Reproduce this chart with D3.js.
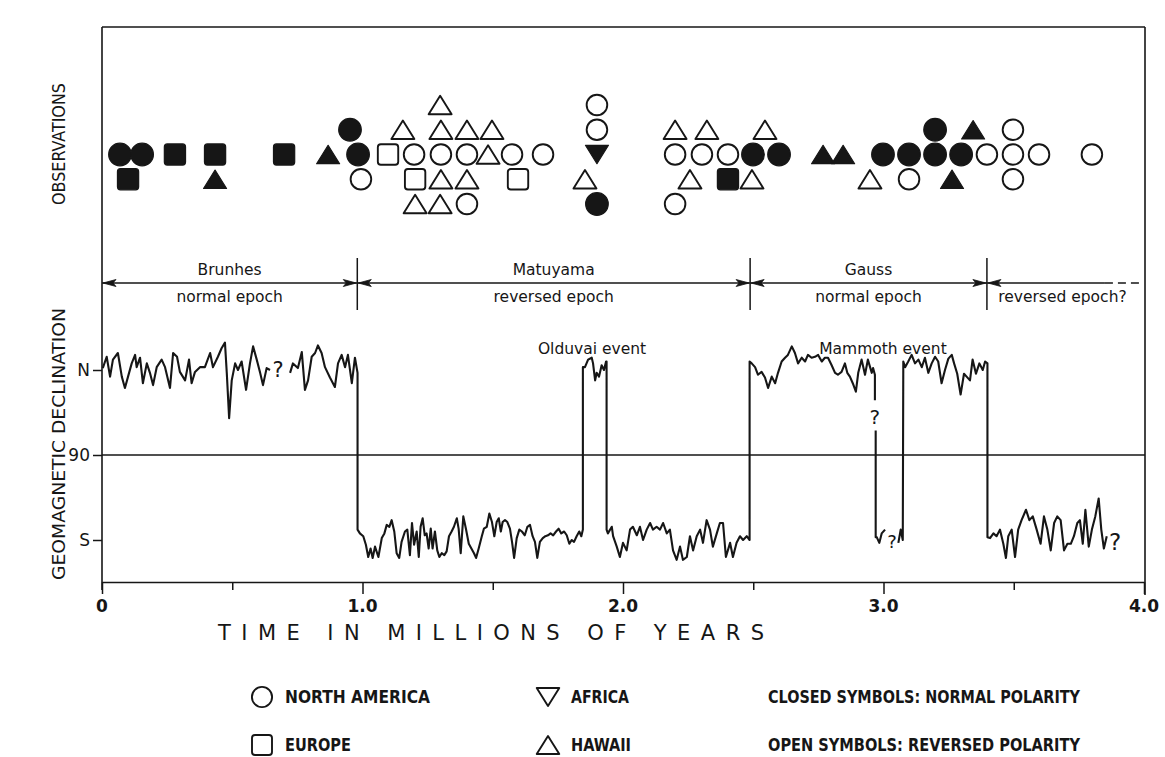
<!DOCTYPE html>
<html><head><meta charset="utf-8">
<script src="https://cdn.jsdelivr.net/npm/d3@7"></script>
<style>
body{margin:0;background:#fff;}
svg{display:block;background:#fff;}
</style></head><body>
<svg id="chart" width="1165" height="757"></svg>
<script>
// ---------------- DATA ----------------
const xTickValues = [0, 0.5, 1, 1.5, 2, 2.5, 3, 3.5, 4];
const xTickLabels = ["0", "1.0", "2.0", "3.0", "4.0"];
const xLabelValues = [0, 1, 2, 3, 4];
const declTickValues = [0, 90, 180];
const declTickLabels = ["N", "90", "S"];

const epochBounds = [0, 0.98, 2.488, 3.397, 4.0];
const epochNames = ["Brunhes", "Matuyama", "Gauss", ""];
const epochKinds = ["normal epoch", "reversed epoch", "normal epoch", "reversed epoch?"];

const eventNames = ["Olduvai event", "Mammoth event"];
const eventTimes = [1.881, 2.998];

// observations: [time (Myr), stack level]
const naNormal = [[0.069,0],[0.154,0],[0.952,-1],[0.983,0],[1.900,2],[2.499,0],[2.599,0],[2.998,0],[3.098,0],[3.198,0],[3.198,-1],[3.298,0]];
const naReversed = [[0.994,1],[1.198,0],[1.301,0],[1.401,0],[1.574,0],[1.693,0],[1.401,2],[1.900,-2],[1.900,-1],[2.200,0],[2.303,0],[2.403,0],[2.200,2],[3.098,1],[3.397,0],[3.497,0],[3.597,0],[3.497,-1],[3.497,1],[3.800,0]];
const euNormal = [[0.100,1],[0.280,0],[0.434,0],[0.699,0],[2.403,1]];
const euReversed = [[1.098,0],[1.202,1],[1.597,1]];
const hiNormal = [[0.434,1],[0.868,0],[2.768,0],[2.845,0],[3.344,-1],[3.263,1]];
const hiReversed = [[1.298,-2],[1.155,-1],[1.301,-1],[1.401,-1],[1.497,-1],[1.482,0],[1.301,1],[1.401,1],[1.202,2],[1.298,2],[1.854,1],[2.200,-1],[2.322,-1],[2.545,-1],[2.257,1],[2.495,1],[2.948,1]];
const afNormal = [[1.900,0]];

// declination trace: [time (Myr), declination (deg, N=0, S=180)], null = gap
const declination = [
[0.003,-2],[0.018,-14],[0.031,7],[0.042,-11],[0.061,-18],[0.076,7],[0.088,19],[0.100,7],[0.114,-7],[0.127,-16],[0.133,-3],[0.146,-13],[0.157,14],[0.172,-7],[0.184,3],[0.196,16],[0.210,-3],[0.229,-11],[0.242,-3],[0.261,19],[0.273,-18],[0.288,-14],[0.299,2],[0.319,11],[0.334,-11],[0.344,14],[0.357,2],[0.376,-3],[0.395,-3],[0.415,-18],[0.426,-3],[0.445,-14],[0.459,-23],[0.472,-29],[0.479,3],[0.488,51],[0.498,11],[0.511,-7],[0.522,0],[0.536,-9],[0.553,21],[0.568,-7],[0.580,-25],[0.594,-11],[0.607,3],[0.618,16],[0.632,-2],[0.645,0],
null,
[0.722,3],[0.733,-7],[0.752,-2],[0.767,-19],[0.779,21],[0.791,11],[0.805,-14],[0.818,-18],[0.829,-26],[0.843,-18],[0.856,-3],[0.875,8],[0.894,18],[0.906,-7],[0.920,-16],[0.933,-3],[0.944,-16],[0.959,14],[0.971,-13],[0.981,3],[0.981,169],
[0.990,173],[1.003,176],[1.013,185],[1.022,198],[1.031,189],[1.039,199],[1.048,187],[1.061,198],[1.074,178],[1.084,173],[1.093,164],[1.103,166],[1.112,159],[1.122,171],[1.131,194],[1.141,199],[1.150,182],[1.163,171],[1.172,169],[1.182,196],[1.190,162],[1.198,185],[1.208,171],[1.216,198],[1.223,166],[1.231,157],[1.239,175],[1.246,173],[1.254,189],[1.262,168],[1.269,189],[1.278,171],[1.287,191],[1.295,198],[1.304,194],[1.314,196],[1.323,192],[1.332,176],[1.342,171],[1.351,166],[1.362,157],[1.369,168],[1.377,194],[1.387,155],[1.397,168],[1.408,184],[1.418,189],[1.428,194],[1.436,199],[1.446,189],[1.458,176],[1.466,168],[1.477,166],[1.487,152],[1.497,161],[1.506,176],[1.515,161],[1.523,157],[1.531,171],[1.538,161],[1.547,159],[1.556,161],[1.566,168],[1.574,182],[1.582,199],[1.592,178],[1.602,169],[1.612,171],[1.623,175],[1.633,166],[1.643,164],[1.653,176],[1.662,182],[1.671,199],[1.681,182],[1.692,178],[1.702,176],[1.712,175],[1.722,173],[1.732,175],[1.743,171],[1.753,168],[1.763,173],[1.774,171],[1.784,175],[1.794,184],[1.803,180],[1.812,182],[1.822,176],[1.832,171],[1.840,176],[1.846,169],[1.846,-3],
[1.854,-3],[1.866,-11],[1.880,-13],[1.885,-7],[1.893,11],[1.899,3],[1.908,7],[1.918,-5],[1.927,0],[1.935,-9],[1.937,-9],[1.937,169],
[1.942,173],[1.957,166],[1.962,176],[1.976,187],[1.988,198],[2.000,183],[2.014,191],[2.027,169],[2.038,166],[2.053,175],[2.065,166],[2.077,180],[2.091,169],[2.104,162],[2.115,169],[2.129,166],[2.142,169],[2.154,162],[2.168,173],[2.180,169],[2.192,191],[2.206,201],[2.219,187],[2.230,201],[2.245,198],[2.257,176],[2.269,191],[2.283,176],[2.296,169],[2.307,183],[2.321,159],[2.334,169],[2.345,187],[2.360,173],[2.372,162],[2.384,162],[2.395,198],[2.411,183],[2.422,198],[2.436,183],[2.449,176],[2.461,180],[2.475,176],[2.486,180],[2.486,-9],
[2.494,-7],[2.507,-3],[2.518,5],[2.532,2],[2.545,8],[2.557,19],[2.571,7],[2.584,14],[2.595,3],[2.609,-9],[2.622,-13],[2.633,-16],[2.648,-25],[2.660,-18],[2.672,-7],[2.686,-13],[2.699,-9],[2.710,-16],[2.724,-13],[2.737,-14],[2.749,-16],[2.763,-9],[2.775,-13],[2.787,-13],[2.801,-5],[2.814,3],[2.825,5],[2.839,2],[2.852,-7],[2.861,3],[2.871,7],[2.882,14],[2.894,23],[2.903,3],[2.916,-11],[2.929,5],[2.940,-11],[2.955,3],[2.960,-2],[2.967,5],[2.967,32],
null,
[2.970,64],[2.970,177],[2.974,177],[2.984,183],[2.993,173],[3.006,169],
null,
[3.057,183],[3.066,169],[3.074,180],[3.076,-9],[3.083,-3],[3.095,-9],[3.108,-16],[3.121,-7],[3.134,-11],[3.147,-3],[3.159,-13],[3.172,3],[3.185,-7],[3.198,-14],[3.210,-9],[3.223,14],[3.236,0],[3.249,-12],[3.262,-16],[3.271,-7],[3.283,4],[3.296,26],[3.309,4],[3.319,7],[3.332,11],[3.342,-11],[3.355,4],[3.368,-7],[3.381,0],[3.390,-9],[3.399,-7],[3.399,177],
[3.409,178],[3.422,173],[3.434,176],[3.447,169],[3.460,184],[3.470,199],[3.479,176],[3.492,169],[3.505,198],[3.517,169],[3.530,159],[3.547,148],[3.560,159],[3.573,155],[3.588,169],[3.603,184],[3.616,155],[3.629,169],[3.642,191],[3.655,162],[3.667,155],[3.680,159],[3.693,191],[3.706,184],[3.719,184],[3.731,176],[3.744,162],[3.754,159],[3.765,184],[3.775,148],[3.788,187],[3.800,169],[3.813,155],[3.826,136],[3.836,169],[3.846,189],[3.857,176]
];

// uncertain points marked "?": [time, declination]
const questionMarks = [[0.676, 0], [2.967, 50], [3.033, 182], [3.889, 182]];

const legendNames = ["NORTH AMERICA", "EUROPE", "AFRICA", "HAWAII"];
const legendShapes = ["circle", "square", "down", "up"];
const legendNotes = ["CLOSED SYMBOLS: NORMAL POLARITY", "OPEN SYMBOLS: REVERSED POLARITY"];

// ---------------- DRAWING ----------------
const svg = d3.select("#chart");
const INK = "#161616";
const L = 102, R = 1144, TOP = 27, AXY = 582;

const x = d3.scaleLinear().domain([0, 4]).range([L, R]);
const yDec = d3.scaleLinear().domain([0, 180]).range([370, 540]);
const yObs = d3.scaleLinear().domain([-2, 2]).range([105, 204]);

const condensed = "'Liberation Sans Narrow','DejaVu Sans Condensed','Roboto Condensed','Arial Narrow',sans-serif";
const plain = "'DejaVu Sans','Noto Sans',sans-serif";

// frame
const frame = svg.append("g").attr("stroke", INK).attr("stroke-width", 1.6).attr("fill", "none");
frame.append("line").attr("x1", L).attr("x2", R + 1).attr("y1", TOP).attr("y2", TOP);
frame.append("line").attr("x1", L).attr("x2", L).attr("y1", TOP).attr("y2", AXY + 8);
frame.append("line").attr("x1", R + 1).attr("x2", R + 1).attr("y1", TOP).attr("y2", AXY + 13);

// x axis
const xAxis = d3.axisBottom(x).tickValues(xTickValues).tickFormat("").tickSize(8).tickSizeOuter(0);
const gx = svg.append("g").attr("transform", `translate(0,${AXY})`).call(xAxis);
gx.select(".domain").attr("stroke", INK).attr("stroke-width", 1.6);
gx.selectAll(".tick line").attr("stroke", INK).attr("stroke-width", 1.5)
  .attr("y2", d => Number.isInteger(d) ? 12 : 8);
svg.append("g").selectAll("text").data(xLabelValues).join("text")
  .attr("x", d => x(d)).attr("y", 606).attr("text-anchor", "middle").attr("dominant-baseline", "central")
  .attr("font-family", plain).attr("font-weight", "bold").attr("font-size", 17).attr("fill", INK)
  .text((d, i) => xTickLabels[i]);
svg.append("text").attr("x", 491).attr("y", 633).attr("text-anchor", "middle").attr("dominant-baseline", "central")
  .attr("font-family", plain).attr("font-size", 21).attr("fill", INK)
  .attr("textLength", 546).attr("lengthAdjust", "spacing")
  .text("TIME IN MILLIONS OF YEARS");

// declination axis
const yAxis = d3.axisLeft(yDec).tickValues(declTickValues).tickFormat("").tickSize(9).tickSizeOuter(0);
const gy = svg.append("g").attr("transform", `translate(${L},0)`).call(yAxis);
gy.select(".domain").remove();
gy.selectAll(".tick line").attr("stroke", INK).attr("stroke-width", 1.5);
svg.append("g").selectAll("text").data(declTickValues).join("text")
  .attr("x", 90).attr("y", d => yDec(d)).attr("text-anchor", "end").attr("dominant-baseline", "central")
  .attr("font-family", plain).attr("font-size", 17).attr("fill", INK)
  .text((d, i) => declTickLabels[i]);
svg.append("line").attr("x1", L).attr("x2", R + 1).attr("y1", yDec(90)).attr("y2", yDec(90))
  .attr("stroke", INK).attr("stroke-width", 1.6);

// rotated axis titles
svg.append("text").attr("transform", "translate(59,144) rotate(-90)").attr("text-anchor", "middle")
  .attr("dominant-baseline", "central").attr("font-family", condensed).attr("font-size", 17).attr("fill", INK)
  .attr("textLength", 122).attr("lengthAdjust", "spacingAndGlyphs").text("OBSERVATIONS");
svg.append("text").attr("transform", "translate(59,444) rotate(-90)").attr("text-anchor", "middle")
  .attr("dominant-baseline", "central").attr("font-family", condensed).attr("font-size", 17).attr("fill", INK)
  .attr("textLength", 272).attr("lengthAdjust", "spacingAndGlyphs").text("GEOMAGNETIC DECLINATION");

// epoch band
const EPY = 283;
const eg = svg.append("g");
eg.append("line").attr("x1", L).attr("x2", x(3.85)).attr("y1", EPY).attr("y2", EPY)
  .attr("stroke", INK).attr("stroke-width", 1.5);
eg.append("line").attr("x1", x(3.85)).attr("x2", R - 2).attr("y1", EPY).attr("y2", EPY)
  .attr("stroke", INK).attr("stroke-width", 1.5).attr("stroke-dasharray", "8,5");
eg.selectAll("line.sep").data(epochBounds.slice(1, -1)).join("line").attr("class", "sep")
  .attr("x1", d => x(d)).attr("x2", d => x(d)).attr("y1", 258).attr("y2", 310)
  .attr("stroke", INK).attr("stroke-width", 1.5);
// arrowheads
const arrows = [];
epochBounds.slice(0, -1).forEach((b, i) => {
  arrows.push({ at: x(b) + 1, dir: -1 });
  if (i < epochBounds.length - 2) arrows.push({ at: x(epochBounds[i + 1]) - 1, dir: 1 });
});
eg.selectAll("path.arr").data(arrows).join("path").attr("class", "arr")
  .attr("d", d => `M${d.at},${EPY} L${d.at - d.dir * 13},${EPY - 3.5} L${d.at - d.dir * 10},${EPY} L${d.at - d.dir * 13},${EPY + 3.5} Z`)
  .attr("fill", INK).attr("stroke", INK).attr("stroke-width", 0.8);
eg.selectAll("text.name").data(epochNames).join("text").attr("class", "name")
  .attr("x", (d, i) => (x(epochBounds[i]) + x(epochBounds[i + 1])) / 2).attr("y", 270)
  .attr("text-anchor", "middle").attr("dominant-baseline", "central")
  .attr("font-family", plain).attr("font-size", 15.5).attr("fill", INK).text(d => d);
eg.selectAll("text.kind").data(epochKinds).join("text").attr("class", "kind")
  .attr("x", (d, i) => (x(epochBounds[i]) + x(epochBounds[i + 1])) / 2 - (i === 3 ? 3 : 0)).attr("y", 297)
  .attr("text-anchor", "middle").attr("dominant-baseline", "central")
  .attr("font-family", plain).attr("font-size", 15.5).attr("fill", INK).text(d => d);

// event labels
svg.append("g").selectAll("text").data(eventNames).join("text")
  .attr("x", (d, i) => x(eventTimes[i])).attr("y", 349)
  .attr("text-anchor", "middle").attr("dominant-baseline", "central")
  .attr("font-family", plain).attr("font-size", 15.5).attr("fill", INK).text(d => d);

// declination trace
const line = d3.line().defined(d => d !== null).x(d => x(d[0])).y(d => yDec(d[1]));
svg.append("path").datum(declination).attr("d", line).attr("fill", "none")
  .attr("stroke", INK).attr("stroke-width", 2.1).attr("stroke-linejoin", "round");

// question marks
const qSizes = [21, 20, 18, 23];
svg.append("g").selectAll("text").data(questionMarks).join("text")
  .attr("x", d => x(d[0])).attr("y", d => yDec(d[1]))
  .attr("text-anchor", "middle").attr("dominant-baseline", "central")
  .attr("font-family", plain).attr("font-size", (d, i) => qSizes[i]).attr("fill", INK).text("?");

// symbols
function drawSymbol(g, shape, filled, cx, cy, scale) {
  const s = scale || 1;
  const fill = filled ? INK : "#fff";
  const sw = filled ? 1.2 : 1.9;
  if (shape === "circle") {
    g.append("circle").attr("cx", cx).attr("cy", cy).attr("r", (filled ? 11.3 : 10.3) * s)
      .attr("fill", fill).attr("stroke", INK).attr("stroke-width", sw);
  } else if (shape === "square") {
    const h = (filled ? 10.6 : 10.2) * s;
    g.append("rect").attr("x", cx - h).attr("y", cy - h).attr("width", 2 * h).attr("height", 2 * h)
      .attr("rx", 3).attr("fill", fill).attr("stroke", INK).attr("stroke-width", sw);
  } else {
    const hw = 11.5 * s, hh = 9.2 * s, dir = shape === "up" ? 1 : -1;
    g.append("path")
      .attr("d", `M${cx},${cy - dir * hh} L${cx + hw},${cy + dir * hh} L${cx - hw},${cy + dir * hh} Z`)
      .attr("fill", fill).attr("stroke", INK).attr("stroke-width", sw).attr("stroke-linejoin", "round");
  }
}
const og = svg.append("g");
const groups = [
  [naNormal, "circle", true], [naReversed, "circle", false],
  [euNormal, "square", true], [euReversed, "square", false],
  [hiNormal, "up", true], [hiReversed, "up", false],
  [afNormal, "down", true]
];
groups.forEach(([arr, shape, filled]) => {
  arr.forEach(d => drawSymbol(og, shape, filled, x(d[0]), yObs(d[1])));
});

// legend
const lg = svg.append("g");
const legX = [262, 262, 548, 548], legY = [697, 745, 697, 745];
legendNames.forEach((n, i) => {
  drawSymbol(lg, legendShapes[i], false, legX[i], legY[i], 0.98);
  lg.append("text").attr("x", legX[i] + 23).attr("y", legY[i]).attr("dominant-baseline", "central")
    .attr("font-family", condensed).attr("font-weight", "bold").attr("font-size", 17).attr("fill", INK)
    .attr("textLength", [145, 66, 58, 60][i]).attr("lengthAdjust", "spacingAndGlyphs").text(n);
});
legendNotes.forEach((n, i) => {
  lg.append("text").attr("x", 768).attr("y", [697, 745][i]).attr("dominant-baseline", "central")
    .attr("font-family", condensed).attr("font-weight", "bold").attr("font-size", 17).attr("fill", INK)
    .attr("textLength", 312).attr("lengthAdjust", "spacingAndGlyphs").text(n);
});
</script>
</body></html>
